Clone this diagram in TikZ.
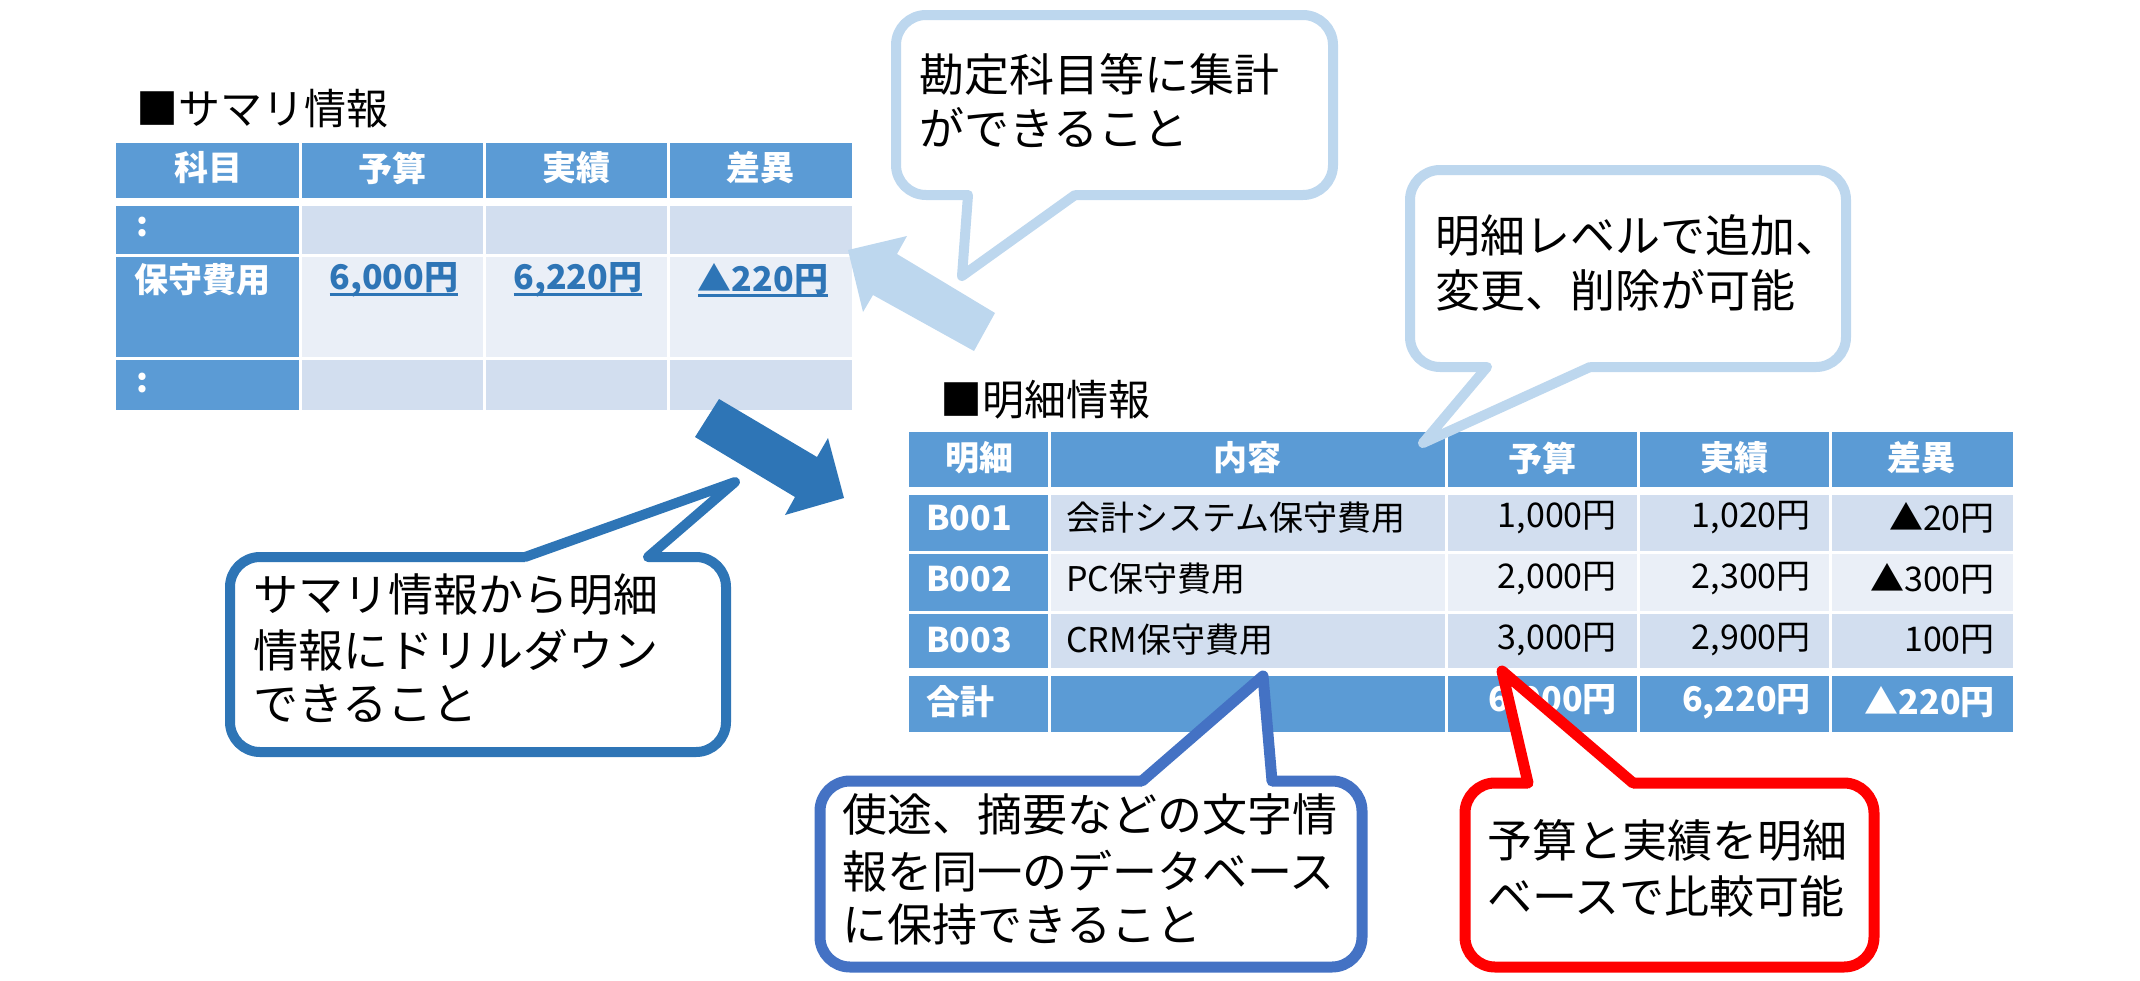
\documentclass[tikz,border=0pt]{standalone}
\usepackage{fontspec}
\setmainfont{Noto Sans CJK JP}
\definecolor{hdr}{HTML}{5B9BD5}
\definecolor{bandA}{HTML}{D2DEEF}
\definecolor{bandB}{HTML}{EAEFF7}
\definecolor{lnk}{HTML}{2E75B6}
\definecolor{lb}{HTML}{BDD7EE}
\definecolor{db}{HTML}{2E75B6}
\definecolor{mb}{HTML}{4472C4}
\definecolor{rd}{HTML}{FF0000}
\newcommand\myul[1]{\setbox0\hbox{#1}\rlap{\rule[-6pt]{\wd0}{2.6pt}}\box0}
\begin{document}
\begin{tikzpicture}[x=1pt,y=-1pt,
  ftitle/.style={font=\fontsize{42}{50}\selectfont, inner sep=0pt, anchor=base west, text=black},
  fcall/.style={font=\fontsize{45}{54}\selectfont, inner sep=0pt, anchor=base west, text=black},
  fth/.style={font=\fontsize{34}{40}\selectfont\bfseries, text=white, inner sep=0pt},
  ftd/.style={font=\fontsize{34}{40}\selectfont, text=black, inner sep=0pt},
  fval/.style={font=\fontsize{34}{40}\selectfont\bfseries, text=lnk, inner sep=0pt},
  wline/.style={draw=white, line width=3},
  arrowshape/.style={draw=none},
  callbox/.style={fill=white, rounded corners=30},
  callptr/.style={line join=round, line cap=round},
]
\useasboundingbox (0,0) rectangle (2140,980);

% ---------------- summary table ----------------
\node[ftitle] (sumtitle) at (136,124) {■サマリ情報};
\fill[hdr] (116,143) rectangle (852,198);
\fill[hdr] (116,206) rectangle (300,410);
\fill[bandA] (300,206) rectangle (852,255);
\fill[bandB] (300,255) rectangle (852,358);
\fill[bandA] (300,358) rectangle (852,410);
\foreach \xx in {300,484,668} \draw[wline] (\xx,143) -- (\xx,410);
\foreach \yy in {255,358} \draw[wline] (116,\yy) -- (852,\yy);

\node[fth] (sh1) at (208,168) {科目};
\node[fth] (sh2) at (392,168) {予算};
\node[fth] (sh3) at (576,168) {実績};
\node[fth] (sh4) at (760,168) {差異};
\node[fth, anchor=west] (sr1) at (136,227) {:};
\node[fth, anchor=west] (sr2) at (134,280) {保守費用};
\node[fth, anchor=west] (sr3) at (136,383) {:};
\node[fval] (sv1) at (394,280) {\myul{6,000円}};
\node[fval] (sv2) at (578,280) {\myul{6,220円}};
\node[fval] (sv3) at (763,280) {\myul{▲220円}};

% ---------------- detail table ----------------
\node[ftitle] (dettitle) at (940,415) {■明細情報};
\fill[hdr] (909,432) rectangle (2013,487);
\fill[hdr] (909,495) rectangle (1049,668);
\fill[bandA] (1049,495) rectangle (2013,552);
\fill[bandB] (1049,552) rectangle (2013,612);
\fill[bandA] (1049,612) rectangle (2013,668);
\fill[hdr] (909,676) rectangle (2013,732);
\foreach \xx in {1049,1446,1638,1830} \draw[wline] (\xx,432) -- (\xx,732);
\foreach \yy in {552,612} \draw[wline] (909,\yy) -- (2013,\yy);

\node[fth] (dh1) at (979,458) {明細};
\node[fth] (dh2) at (1247,458) {内容};
\node[fth] (dh3) at (1542,458) {予算};
\node[fth] (dh4) at (1734,458) {実績};
\node[fth] (dh5) at (1921,458) {差異};

\node[fth, anchor=west] (b1id) at (926,518) {B001};
\node[ftd, anchor=west] (b1tx) at (1066,518) {会計システム保守費用};
\node[ftd, anchor=east] (b1bu) at (1617,518) {1,000円};
\node[ftd, anchor=east] (b1ac) at (1811,518) {1,020円};
\node[ftd, anchor=east] (b1df) at (1995,518) {▲20円};

\node[fth, anchor=west] (b2id) at (926,579) {B002};
\node[ftd, anchor=west] (b2tx) at (1066,579) {PC保守費用};
\node[ftd, anchor=east] (b2bu) at (1617,579) {2,000円};
\node[ftd, anchor=east] (b2ac) at (1811,579) {2,300円};
\node[ftd, anchor=east] (b2df) at (1995,579) {▲300円};

\node[fth, anchor=west] (b3id) at (926,640) {B003};
\node[ftd, anchor=west] (b3tx) at (1066,640) {CRM保守費用};
\node[ftd, anchor=east] (b3bu) at (1617,640) {3,000円};
\node[ftd, anchor=east] (b3ac) at (1811,640) {2,900円};
\node[ftd, anchor=east] (b3df) at (1995,640) {100円};

\node[fth, anchor=west] (totid) at (926,702) {合計};
\node[fth, anchor=east] (totbu) at (1617,702) {6,000円};
\node[fth, anchor=east] (totac) at (1811,702) {6,220円};
\node[fth, anchor=east] (totdf) at (1995,702) {▲220円};

% ---------------- block arrows ----------------
\fill[lb] (995,313) -- (897,254) -- (907,236) -- (848,250) -- (863,312) -- (873,295) -- (974,351) -- cycle;
\fill[db] (719,399) -- (817,457) -- (828,438) -- (844,498) -- (785,515) -- (795,497) -- (695,437) -- cycle;

% ---------------- callout 1 ----------------
\draw[lb, line width=10, callbox] (896,15) rectangle (1333,195);
\fill[white] (968,185) -- (968,195) -- (962,276) -- (1075,195) -- (1075,185) -- cycle;
\draw[lb, line width=10, callptr] (968,195) -- (962,276) -- (1075,195);
\node[fcall] (c1a) at (919,91) {勘定科目等に集計};
\node[fcall] (c1b) at (919,145) {ができること};

% ---------------- callout 2 ----------------
\draw[lb, line width=10, callbox] (1410,170) rectangle (1846,367);
\fill[white] (1487,357) -- (1487,367) -- (1423,443) -- (1590,367) -- (1590,357) -- cycle;
\draw[lb, line width=10, callptr] (1487,367) -- (1423,443) -- (1590,367);
\node[fcall] (c2a) at (1435,252) {明細レベルで追加、};
\node[fcall] (c2b) at (1435,307) {変更、削除が可能};

% ---------------- callout 3 (dark blue) ----------------
\draw[db, line width=10, callbox] (230,557) rectangle (726,752);
\fill[white] (525,567) -- (525,557) -- (735,482) -- (648,557) -- (648,567) -- cycle;
\draw[db, line width=10, callptr] (525,557) -- (735,482) -- (648,557);
\node[fcall] (c3a) at (253,611) {サマリ情報から明細};
\node[fcall] (c3b) at (253,667) {情報にドリルダウン};
\node[fcall] (c3c) at (253,720) {できること};

% ---------------- callout 4 (blue) ----------------
\draw[mb, line width=11, callbox] (820,781) rectangle (1362,967);
\fill[white] (1142,792) -- (1142,781) -- (1263,676) -- (1272,781) -- (1272,792) -- cycle;
\draw[mb, line width=11, callptr] (1142,781) -- (1263,676) -- (1272,781);
\node[fcall] (c4a) at (842,831) {使途、摘要などの文字情};
\node[fcall] (c4b) at (842,888) {報を同一のデータベース};
\node[fcall] (c4c) at (842,941) {に保持できること};

% ---------------- callout 5 (red) ----------------
\draw[rd, line width=11, callbox] (1465,783) rectangle (1874,967);
\fill[white] (1528,794) -- (1528,783) -- (1502,671) -- (1633,783) -- (1633,794) -- cycle;
\draw[rd, line width=11, callptr] (1528,783) -- (1502,671) -- (1633,783);
\node[fcall] (c5a) at (1487,857) {予算と実績を明細};
\node[fcall] (c5b) at (1487,913) {ベースで比較可能};
\end{tikzpicture}
\end{document}
